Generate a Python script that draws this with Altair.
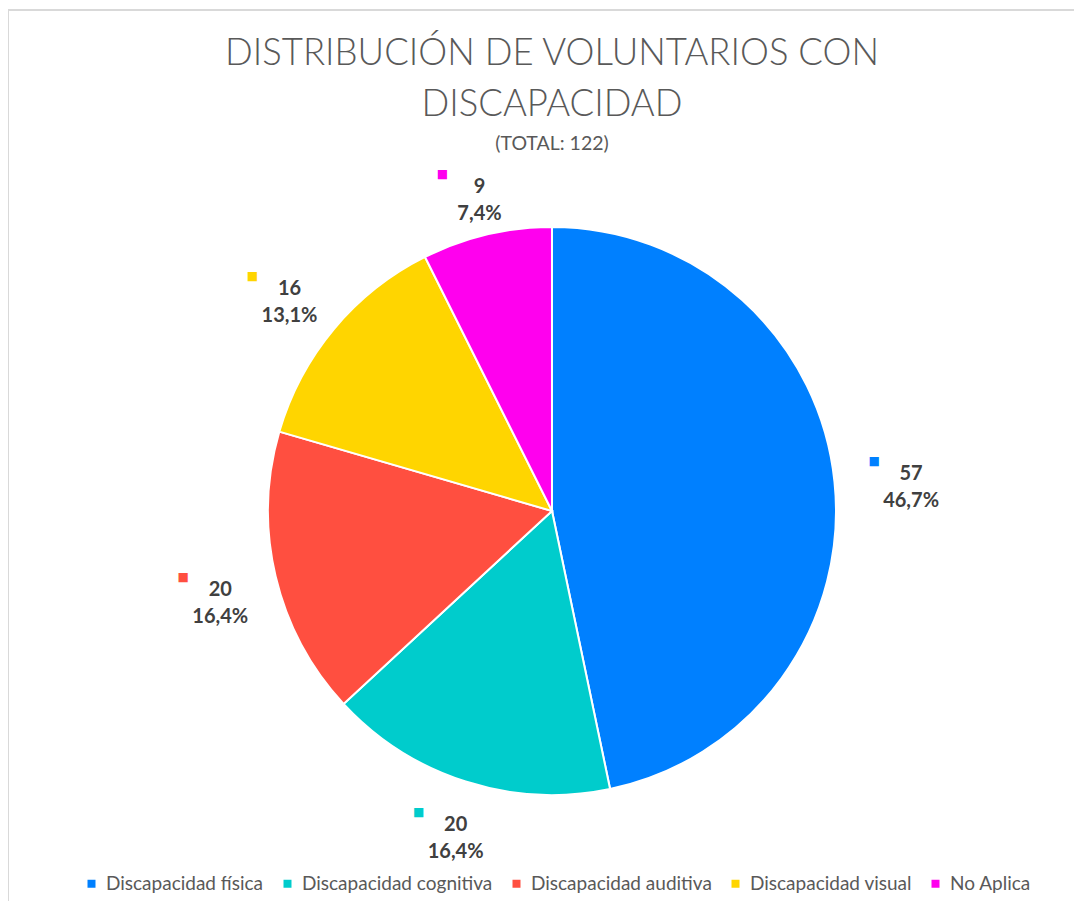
import altair as alt
import pandas as pd

categories = ["Discapacidad física", "Discapacidad cognitiva", "Discapacidad auditiva",
              "Discapacidad visual", "No Aplica"]
values = [57, 20, 20, 16, 9]
colors = ["#0080FF", "#00CCCC", "#FF4F40", "#FFD500", "#FF00EE"]
label_radius = [357, 330, 345, 347, 333]
total = 122
title_lines = ["DISTRIBUCIÓN DE VOLUNTARIOS CON", "DISCAPACIDAD"]
subtitle = "(TOTAL: 122)"

df = pd.DataFrame({"cat": categories, "value": values, "idx": list(range(len(values))),
                   "lr": label_radius})
df["pct"] = [f"{v / total * 100:.1f}".replace(".", ",") + "%" for v in values]
df["label"] = [f"{v}\n{p}" for v, p in zip(df["value"], df["pct"])]
df["mark"] = "■"

CX, CY = 544, 343
R = 284

scale = alt.Scale(domain=categories, range=colors)
theta_scale = alt.Scale(domain=[0, total])
color = alt.Color("cat:N", scale=scale, sort=categories,
                  legend=alt.Legend(title=None, orient="none", direction="horizontal",
                                    legendX=74, legendY=706, symbolType="square",
                                    symbolSize=64, symbolStrokeWidth=0,
                                    labelFont="Lato", labelFontSize=19, labelColor="#595959",
                                    labelOffset=5, columnPadding=14, labelLimit=300))

pie = alt.Chart(df).mark_arc(stroke="white", strokeWidth=2).encode(
    theta=alt.Theta("value:Q", stack=True, scale=theta_scale),
    order=alt.Order("idx:Q"),
    color=color,
    x=alt.value(CX), y=alt.value(CY), radius=alt.value(R),
)

lab_base = alt.Chart(df).transform_window(
    cum="sum(value)", sort=[alt.SortField("idx")], frame=[None, 0]
).transform_calculate(
    mid="datum.cum - datum.value / 2"
).encode(
    theta=alt.Theta("mid:Q", stack=None, scale=theta_scale),
    radius=alt.Radius("lr:Q", scale=None),
    x=alt.value(CX), y=alt.value(CY),
)

labels = lab_base.mark_text(font="Lato", fontWeight="bold", fontSize=20, color="#404040",
                            lineBreak="\n", lineHeight=27, align="center", baseline="middle",
                            dx=4).encode(text="label:N")

squares = lab_base.mark_text(font="DejaVu Sans", fontSize=12, align="center", baseline="middle",
                             dx=-33, dy=-13).encode(
    text="mark:N",
    color=alt.Color("cat:N", scale=scale, legend=None),
)

one = pd.DataFrame({"k": [0]})
border = alt.Chart(one).mark_rule(color="#D9D9D9", strokeWidth=2).encode(
    x=alt.value(0), x2=alt.value(1074), y=alt.value(-158)
)
border2 = alt.Chart(one).mark_rule(color="#D9D9D9", strokeWidth=2).encode(
    x=alt.value(0), y=alt.value(-158), y2=alt.value(740)
)

t1 = alt.Chart(one).mark_text(text=title_lines[0], font="Lato", fontSize=36.5, fontWeight=300,
                              color="#595959", align="center", baseline="middle").encode(
    x=alt.value(CX), y=alt.value(-114))
t2 = alt.Chart(one).mark_text(text=title_lines[1], font="Lato", fontSize=36.5, fontWeight=300,
                              color="#595959", align="center", baseline="middle").encode(
    x=alt.value(CX), y=alt.value(-63))
t3 = alt.Chart(one).mark_text(text=subtitle, font="Lato", fontSize=19.5,
                              color="#595959", align="center", baseline="middle").encode(
    x=alt.value(CX), y=alt.value(-24))

chart = alt.layer(border, border2, t1, t2, t3, pie, squares, labels).properties(
    width=1066, height=733,
    padding={"top": 160, "left": 0, "right": 0, "bottom": 0},
    autosize=alt.AutoSizeParams(type="none"),
).configure_view(stroke=None)

chart.save("out.html", embed_options={"renderer": "svg", "actions": False})
